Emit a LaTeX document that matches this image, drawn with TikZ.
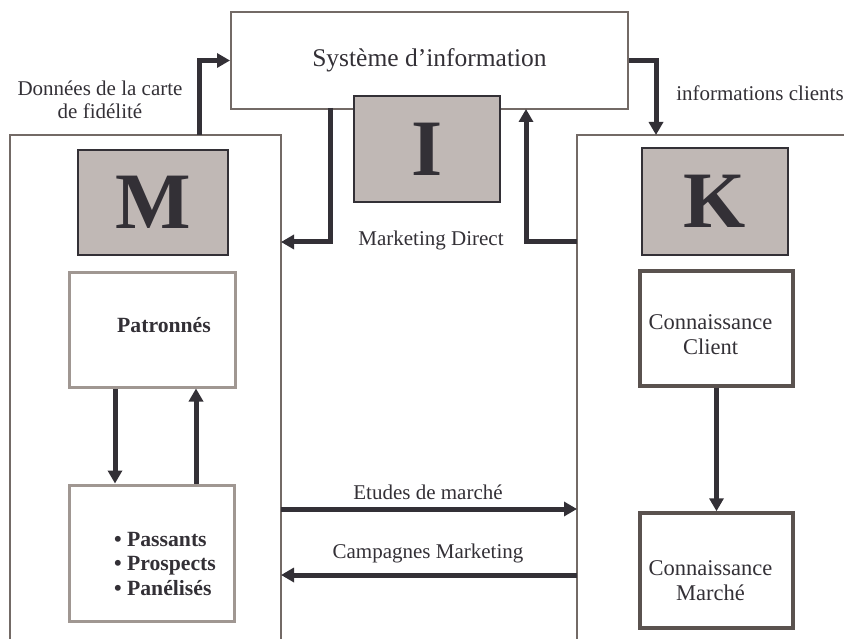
\documentclass[tikz,border=0pt]{standalone}
\usepackage{fontspec}
\setmainfont{Liberation Serif}
\usetikzlibrary{arrows.meta}
\definecolor{framegray}{HTML}{736A66}
\definecolor{boxfill}{HTML}{C0B8B5}
\definecolor{ink}{HTML}{333036}
\definecolor{lightframe}{HTML}{A09792}
\definecolor{darkframe}{HTML}{5A524F}
\tikzset{
  arr/.style={draw=ink, line width=5pt, -{Triangle[length=13pt,width=14pt]}},
  frame/.style={draw=framegray, line width=2pt},
  letterbox/.style={draw=ink, fill=boxfill, line width=1.5pt, inner sep=0pt, text=ink, font=\fontsize{80}{80}\selectfont\bfseries},
  lbl/.style={text=ink, font=\fontsize{21}{23}\selectfont, inner sep=0pt, align=center},
  lightbox/.style={draw=lightframe, line width=3pt, inner sep=0pt, text=ink, font=\fontsize{21.7}{24.5}\selectfont\bfseries, align=center},
  darkbox/.style={draw=darkframe, line width=3.5pt, inner sep=0pt, text=ink, font=\fontsize{22.5}{25}\selectfont, align=center}
}
\begin{document}
\begin{tikzpicture}[x=1pt,y=-1pt]
\useasboundingbox (0,0) rectangle (844,639);
% outer frames
\draw[frame] (10,645) -- (10,135) -- (281,135) -- (281,645);
\draw[frame] (577,645) -- (577,135) -- (850,135);
% system box
\node[frame, minimum width=397pt, minimum height=97pt, inner sep=0pt, text=ink,
      font=\fontsize{25.5}{28}\selectfont] (sys) at (429.5,60.5) {Système d’information};
% letter boxes
\node[letterbox, minimum width=150pt, minimum height=105pt] (M) at (153,202.5) {M};
\node[letterbox, minimum width=146pt, minimum height=107pt] (K) at (715,201.5) {K};
\node[letterbox, minimum width=146pt, minimum height=106pt] (I) at (427,149) {I};
% inner boxes
\node[lightbox, minimum width=166pt, minimum height=114pt] (pat) at (152,330)
  {\hspace*{24pt}\raisebox{-3pt}[0pt][0pt]{Patronnés}};
\node[lightbox, minimum width=165pt, minimum height=136pt] (pas) at (151.5,553)
  {\hspace*{27pt}\raisebox{7pt}[0pt][0pt]{\begin{tabular}[t]{@{}l@{}}• Passants\\ • Prospects\\ • Panélisés\end{tabular}}};
\node[darkbox, minimum width=153pt, minimum height=115pt] (cc) at (716.5,328.5)
  {\raisebox{-1.5pt}[0pt][0pt]{\begin{tabular}[t]{@{}c@{}}Connaissance\\ Client\end{tabular}}\hspace*{12pt}};
\node[darkbox, minimum width=153pt, minimum height=115pt] (cm) at (716.5,570.5)
  {\raisebox{-4.5pt}[0pt][0pt]{\begin{tabular}[t]{@{}c@{}}Connaissance\\ Marché\end{tabular}}\hspace*{12pt}};
% labels
\node[lbl] (ldon) at (100,99.5) {Données de la carte\\de fidélité};
\node[lbl] (linf) at (760,93) {informations clients};
\node[lbl] (lmd) at (431,240) {Marketing Direct};
\node[lbl] (let) at (428,492) {Etudes de marché};
\node[lbl] (lcm) at (428,553) {Campagnes Marketing};
% coordinates on frames
\coordinate (ltop) at (199,135);
\coordinate (rtop) at (656,135);
\coordinate (lframe1) at (281,242);
\coordinate (rframe1) at (577,242);
\coordinate (sysb1) at (330,108);
\coordinate (sysb2) at (526,109);
\coordinate (lframe2) at (281,509);
\coordinate (rframe2) at (577,509);
\coordinate (lframe3) at (281,575);
\coordinate (rframe3) at (577,575);
\coordinate (xa) at (115,0);
\coordinate (xb) at (196,0);
% arrows
\draw[arr] (ltop) |- (sys.west);
\draw[arr] (sys.east) -| (rtop);
\draw[arr] (sysb1) |- (lframe1);
\draw[arr] (rframe1) -| (sysb2);
\draw[arr] (pat.south -| xa) -- (pas.north -| xa);
\draw[arr] (pas.north -| xb) -- (pat.south -| xb);
\draw[arr] (cc) -- (cm);
\draw[arr] (lframe2) -- (rframe2);
\draw[arr] (rframe3) -- (lframe3);
\end{tikzpicture}
\end{document}
